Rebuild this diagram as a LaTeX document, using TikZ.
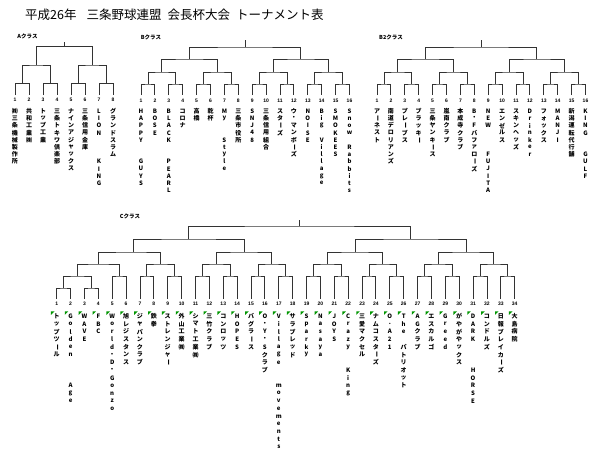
\documentclass[tikz,border=0pt]{standalone}
\usepackage{fontspec}
\usepackage{graphicx}
\setmainfont{Noto Sans CJK JP}
\newfontfamily\numfont{Liberation Sans}
\usetikzlibrary{calc}
\definecolor{xlgreen}{RGB}{0,150,0}
\newlength\tstep
\setlength\tstep{7.2pt}
\def\tatestop{\tatestop}
\def\tate#1{\vtop{\offinterlineskip\tateloop#1\tatestop}}
\def\tateloop#1{\ifx#1\tatestop\else\tatechar{#1}\expandafter\tateloop\fi}
\def\tatechar#1{\vbox to\tstep{\vss\hbox to 8pt{\hss\tateglyph{#1}\hss}\vss}}
\def\tateglyph#1{\ifx#1_\else\ifx#1ー\rotatebox[origin=c]{-90}{ー}\else#1\fi\fi}
\newcommand\mt[4]{\path let \p1=(#2), \p2=(#3) in ({0.5*\x1+0.5*\x2},{-#4pt}) coordinate (#1);
  \draw[br] (#2) |- (#1) -| (#3);}
\newcommand\mtx[5]{\coordinate (#1) at (#4,#5);
  \draw[br] (#2) |- (#1) -| (#3);}
\begin{document}
\begin{tikzpicture}[x=1pt,y=-1pt,
  br/.style={draw=black!80,line width=0.9pt},
  num/.style={inner sep=0pt,font=\numfont\fontsize{5}{6}\selectfont\bfseries},
  team/.style={anchor=north,inner sep=0pt,font=\fontsize{6}{7}\selectfont\bfseries},
  cls/.style={inner sep=0pt,font=\fontsize{5.5}{6}\selectfont\bfseries},
  tri/.style={fill=xlgreen}]
\fill[white] (0,0) rectangle (600,458);
\useasboundingbox (0,0) rectangle (600,458);
\node[anchor=west,inner sep=0pt,font=\fontsize{12.5}{14}\selectfont] (title) at (25,15) {平成26年\hspace{10pt}三条野球連盟\hspace{6pt}会長杯大会\hspace{6pt}トーナメント表};
% ---------- A class
\node[cls] (Alab) at (27.5,36) {Aクラス};
\foreach \i/\nm in {1/㈱三条機械製作所,2/共和工業㈱,3/トップ工業,4/三条トキワ倶楽部,5/ナインアジャックス,6/三条信用金庫,7/LION___KING,8/グランドスラム}{
  \pgfmathsetmacro\xx{15+14*(\i-1)}
  \coordinate (A\i) at (\xx,95);
  \node[num] (An\i) at (\xx,100) {\i};
  \node[team] (At\i) at (\xx,107.4) {\expandafter\tate\expandafter{\nm}};
}
\mt{Aa}{A1}{A2}{83.3}\mt{Ab}{A3}{A4}{83.3}\mt{Ac}{A5}{A6}{83.3}\mt{Ad}{A7}{A8}{83.3}
\mt{Ae}{Aa}{Ab}{65}\mt{Af}{Ac}{Ad}{65}
\mt{Ar}{Ae}{Af}{46.7}
\coordinate (As) at (0,41.5);
\draw[br] (Ar) -- (Ar |- As);
% ---------- B class
\node[cls] (Blab) at (151,37) {Bクラス};
\foreach \i/\nm in {1/HAPPY__GUYS,2/BOSE,3/BLACK__PEARL,4/コロナ,5/高橋,6/乾杯,7/My__Style,8/三条市役所,9/SNJ48,10/三条信用組合,11/スターズ,12/ウ・マンボーズ,13/NOISE,14/Big_Village,15/SMOKEES,16/Snow_Rabbits}{
  \pgfmathsetmacro\xx{141+13.9*(\i-1)}
  \coordinate (B\i) at (\xx,95);
  \node[num] (Bn\i) at (\xx,100.5) {\i};
  \node[team] (Bt\i) at (\xx,107.4) {\expandafter\tate\expandafter{\nm}};
}
\foreach \kk in {1,...,8}{
  \pgfmathtruncatemacro\pa{2*\kk-1}\pgfmathtruncatemacro\pb{2*\kk}
  \mt{Ba\kk}{B\pa}{B\pb}{84}
}
\foreach \kk in {1,...,4}{
  \pgfmathtruncatemacro\pa{2*\kk-1}\pgfmathtruncatemacro\pb{2*\kk}
  \mt{Bb\kk}{Ba\pa}{Ba\pb}{72}
}
\mt{Bc1}{Bb1}{Bb2}{59}\mt{Bc2}{Bb3}{Bb4}{59}
\mt{Br}{Bc1}{Bc2}{47}
\coordinate (Bs) at (0,40);
\draw[br] (Br) -- (Br |- Bs);
% ---------- B2 class
\node[cls] (Dlab) at (391,37) {B2クラス};
\foreach \i/\nm in {1/アーネスト,2/南道デロリアンズ,3/プレーブス,4/ブラッキー,5/三条ヤンキース,6/嵐南クラブ,7/本成寺クラブ,8/B・Fバファローズ,9/NEW___FUJITA,10/エンゼルス,11/スキンヘッズ,12/Drinker,13/フォックス,14/MANJI,15/新潟運転代行舗,16/KING__GULF}{
  \pgfmathsetmacro\xx{377+13.9*(\i-1)}
  \coordinate (D\i) at (\xx,95);
  \node[num] (Dn\i) at (\xx,100.5) {\i};
  \node[team] (Dt\i) at (\xx,107.4) {\expandafter\tate\expandafter{\nm}};
}
\foreach \kk in {1,...,8}{
  \pgfmathtruncatemacro\pa{2*\kk-1}\pgfmathtruncatemacro\pb{2*\kk}
  \mt{Da\kk}{D\pa}{D\pb}{84}
}
\foreach \kk in {1,...,4}{
  \pgfmathtruncatemacro\pa{2*\kk-1}\pgfmathtruncatemacro\pb{2*\kk}
  \mt{Db\kk}{Da\pa}{Da\pb}{72}
}
\mt{Dc1}{Db1}{Db2}{59}\mt{Dc2}{Db3}{Db4}{59}
\mt{Dr}{Dc1}{Dc2}{47}
\coordinate (Ds) at (0,40);
\draw[br] (Dr) -- (Dr |- Ds);
% ---------- C class
\node[cls] (Clab) at (130,216) {Cクラス};
\setlength\tstep{7.7pt}
\foreach \i/\nm in {1/トップツール,2/Golden___Age,3/WAVE,4/FBC,5/World・D・Gonzo,6/旭レジスタンス,7/ジャパンクラブ,8/鉄拳,9/ストレンジャー,10/外山工業㈱,11/シマト工業㈱,12/三竹クラブ,13/コンロッツ,14/HOPES,15/バグラース,16/O・Y・Sクラブ,17/Village__movements,18/サラブレッド,19/Sparky,20/Nasaya,21/JOYS,22/Crazy__King,23/三愛マクセル,24/ナムコスターズ,25/O.A21,26/The_パトリオット,27/AGクラブ,28/エスカルゴ,29/Greed,30/がやがやックス,31/DARK___HORSE,32/コンドルズ,33/日報ブレイカーズ,34/大島病院}{
  \pgfmathsetmacro\xx{56.7+13.88*(\i-1)}
  \coordinate (C\i) at (\xx,299);
  \node[num] (Cn\i) at (\xx,303.5) {\i};
  \fill[tri] ({\xx-5.8},311.3) -- ++(3.6,0) -- ++(-3.6,3.6) -- cycle;
  \node[team] (Ct\i) at (\xx,312.2) {\expandafter\tate\expandafter{\nm}};
}
\mt{Cf1}{C1}{C2}{288}\mt{Cf2}{C3}{C4}{288}
\mt{Ce0}{Cf1}{Cf2}{276}
\foreach \kk in {3,...,17}{
  \pgfmathtruncatemacro\pa{2*\kk-1}\pgfmathtruncatemacro\pb{2*\kk}
  \mt{Ce\kk}{C\pa}{C\pb}{276}
}
\mt{Cd1}{Ce0}{Ce3}{264}
\foreach \kk in {2,...,8}{
  \pgfmathtruncatemacro\pa{2*\kk}\pgfmathtruncatemacro\pb{2*\kk+1}
  \mt{Cd\kk}{Ce\pa}{Ce\pb}{264}
}
\mtx{Cc1}{Cd1}{Cd2}{133}{252}
\mt{Cc2}{Cd3}{Cd4}{252}\mt{Cc3}{Cd5}{Cd6}{252}\mt{Cc4}{Cd7}{Cd8}{252}
\mt{Cb1}{Cc1}{Cc2}{239}\mt{Cb2}{Cc3}{Cc4}{239}
\mt{Cr}{Cb1}{Cb2}{226}
\coordinate (Cs) at (0,220);
\draw[br] (Cr) -- (Cr |- Cs);
\end{tikzpicture}
\end{document}
